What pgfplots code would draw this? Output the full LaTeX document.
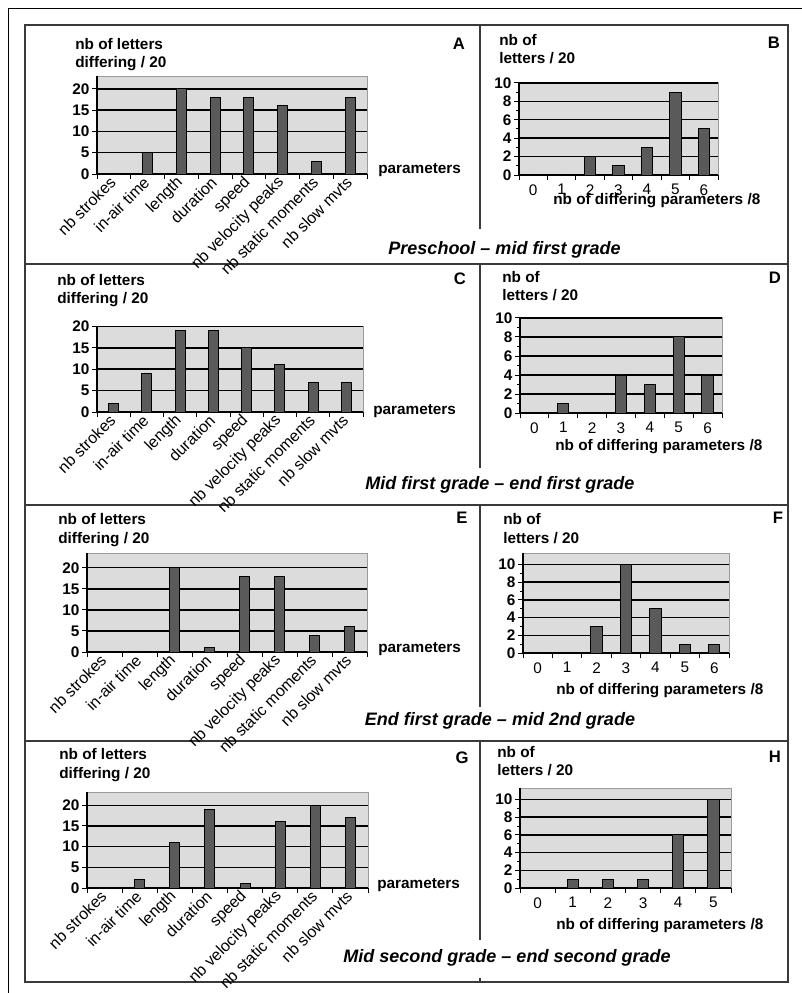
\documentclass[border=0pt]{standalone}
\usepackage{fontspec}
\setmainfont{Liberation Sans}
\usepackage{pgfplots}
\pgfplotsset{compat=1.18}
\definecolor{bggray}{HTML}{DCDCDC}
\definecolor{barfill}{HTML}{5A5A5A}
\definecolor{framegray}{HTML}{9A9A9A}
\definecolor{linegray}{HTML}{3A3A3A}
\newcommand\lblfont{\bfseries\fontsize{11.5}{13}\selectfont}
\newcommand\catfont{\fontsize{12}{13}\selectfont}
\newcommand\numfont{\fontsize{11.5}{13}\selectfont}
\newcommand\titlefont{\bfseries\itshape\fontsize{13.5}{15}\selectfont}
\newcommand\letterfont{\bfseries\fontsize{12.5}{14}\selectfont}
\pgfplotsset{
  panel/.style={
    scale only axis, anchor=south west,
    axis lines=left,
    axis line style={-, black, line width=0.9pt},
    axis background/.style={fill=bggray, draw=framegray, line width=0.6pt},
    ymajorgrids, grid style={black, line width=1.1pt},
    tick align=outside, major tick length=3.5pt, minor tick length=2pt,
    tick style={black, line width=0.7pt},
    ymin=0,
    /pgf/number format/assume math mode=true,
    yticklabel style={font=\lblfont, inner sep=2pt},
    x tick label as interval,
    ybar,
  },
  leftpanel/.style={panel, xmin=0.5, xmax=8.5, xtick={0.5,1.5,...,8.5},
    xticklabels={nb strokes, in-air time, length, duration, speed, nb velocity peaks, nb static moments, nb slow mvts},
    xticklabel style={font=\catfont, rotate=45, anchor=east, inner sep=1pt},
    ytick={0,5,10,15,20}, bar width=7.5pt},
  rightpanel/.style={panel, xmin=-0.5, xmax=6.5, xtick={-0.5,0.5,...,6.5},
    xticklabels={0,1,2,3,4,5,6}, xticklabel style={font=\numfont},
    ytick={0,2,...,10}, minor y tick num=1, bar width=8.5pt},
  barstyle/.style={fill=barfill, draw=black, line width=0.7pt},
}
\begin{document}
\begin{tikzpicture}[x=0.75pt, y=-0.75pt]
\path[use as bounding box] (0,0) rectangle (802,993);
% frames
\draw[black, line width=0.6pt] (8,993) -- (8,8) -- (802,8);
\draw[linegray, line width=1.1pt] (25,25) rectangle (788,982);
\draw[linegray, line width=1.3pt] (25,264) -- (788,264) (25,505) -- (788,505) (25,741) -- (788,741);
\draw[linegray, line width=1.1pt] (480,25) -- (480,229) (480,264) -- (480,468) (480,505) -- (480,707) (480,741) -- (480,940) (480,978) -- (480,982);

% ---- A
\begin{axis}[leftpanel, at={(72.75pt,-130.5pt)}, width=202.5pt, height=73.5pt, ymax=23]
\addplot[barstyle] coordinates {(1,0) (2,5) (3,20) (4,18) (5,18) (6,16) (7,3) (8,18)};
\end{axis}
% ---- B
\begin{axis}[rightpanel, at={(389.25pt,-131.25pt)}, width=149.25pt, height=69.75pt, ymax=10.1]
\addplot[barstyle] coordinates {(0,0) (1,0) (2,2) (3,1) (4,3) (5,9) (6,5)};
\end{axis}
% ---- C
\begin{axis}[leftpanel, at={(72.75pt,-309pt)}, width=199.5pt, height=64.5pt, ymax=20.1]
\addplot[barstyle] coordinates {(1,2) (2,9) (3,19) (4,19) (5,15) (6,11) (7,7) (8,7)};
\end{axis}
% ---- D
\begin{axis}[rightpanel, at={(390pt,-309.75pt)}, width=151.5pt, height=72pt, ymax=10.1]
\addplot[barstyle] coordinates {(0,0) (1,1) (2,0) (3,4) (4,3) (5,8) (6,4)};
\end{axis}
% ---- E
\begin{axis}[leftpanel, at={(65.25pt,-489pt)}, width=210pt, height=74.25pt, ymax=23.5]
\addplot[barstyle] coordinates {(1,0) (2,0) (3,20) (4,1) (5,18) (6,18) (7,4) (8,6)};
\end{axis}
% ---- F
\begin{axis}[rightpanel, at={(392.25pt,-489.75pt)}, width=154.5pt, height=75pt, ymax=11.3]
\addplot[barstyle] coordinates {(0,0) (1,0) (2,3) (3,10) (4,5) (5,1) (6,1)};
\end{axis}
% ---- G
\begin{axis}[leftpanel, at={(65.25pt,-666pt)}, width=210.75pt, height=72pt, ymax=23.2]
\addplot[barstyle] coordinates {(1,0) (2,2) (3,11) (4,19) (5,1) (6,16) (7,20) (8,17)};
\end{axis}
% ---- H
\begin{axis}[rightpanel, at={(390pt,-666pt)}, width=158.25pt, height=75pt, ymax=11.3,
  xmax=5.5, xtick={-0.5,0.5,...,5.5}, xticklabels={0,1,2,3,4,5}]
\addplot[barstyle] coordinates {(0,0) (1,1) (2,1) (3,1) (4,6) (5,10)};
\end{axis}

% y labels (left)
\foreach \x/\a/\b in {75/49/67, 57/285/303, 58/524/543, 59/759/778}{
  \node[font=\lblfont, anchor=base west, inner sep=0] at (\x,\a) {nb of letters};
  \node[font=\lblfont, anchor=base west, inner sep=0] at (\x,\b) {differing / 20};
}
% y labels (right)
\foreach \x/\a/\b in {499/45/63, 502/282/300, 503/524/543, 497/757/775}{
  \node[font=\lblfont, anchor=base west, inner sep=0] at (\x,\a) {nb of};
  \node[font=\lblfont, anchor=base west, inner sep=0] at (\x,\b) {letters / 20};
}
% parameters
\foreach \x/\y in {378/173, 373/414, 378/652, 377/888}{
  \node[font=\lblfont, anchor=base west, inner sep=0] at (\x,\y) {parameters};
}
% x labels right
\foreach \x/\y in {553/204, 555/450, 556/694, 556/929}{
  \node[font=\lblfont, anchor=base west, inner sep=0] at (\x,\y) {nb of differing parameters /8};
}
% letters
\foreach \x/\y/\t in {459/49/A, 774/48/B, 460/284/C, 775/283/D, 462/523/E, 778/523/F, 462/763/G, 775/762/H}{
  \node[font=\letterfont, anchor=base, inner sep=0] at (\x,\y) {\t};
}
% titles
\node[font=\titlefont, anchor=base, inner sep=0] at (504.5,254) {Preschool – mid first grade};
\node[font=\titlefont, anchor=base, inner sep=0] at (500,489) {Mid first grade – end first grade};
\node[font=\titlefont, anchor=base, inner sep=0] at (500,725) {End first grade – mid 2nd grade};
\node[font=\titlefont, anchor=base, inner sep=0] at (507,962) {Mid second grade – end second grade};
\end{tikzpicture}
\end{document}
